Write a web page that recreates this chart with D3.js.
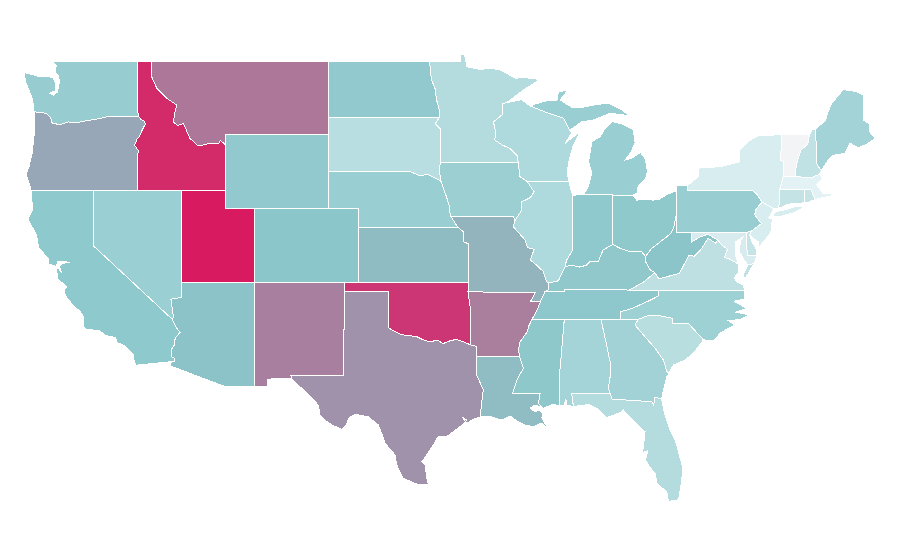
<!DOCTYPE html>
<html><head><meta charset="utf-8">
<script src="https://cdn.jsdelivr.net/npm/d3@7"></script>
<style>html,body{margin:0;background:#fff}svg{display:block}</style>
</head><body><svg id="map" width="900" height="560"></svg>
<script>
const stateNames=["WA","OR","CA","NV","ID","MT","WY","UT","CO","AZ","NM","ND","SD","NE","KS","OK","TX","MN","IA","MO","AR","LA","WI","IL","MI","IN","OH","KY","TN","MS","AL","GA","FL","SC","NC","VA","WV","PA","NY","VT","NH","ME","MA","CT","RI","NJ","DE","MD"];
const stateColors=["#97cdd1","#97a7b7","#8ecacd","#9ad0d3","#d32b69","#ac7799","#92c9ce","#d81b60","#8bc7ca","#8bc3c8","#a87f9e","#91c9ce","#b9dee1","#99cfd2","#8fbbc3","#cd3674","#a092aa","#b4dbde","#9bcfd2","#93b4bd","#aa7e9d","#90bdc4","#aedadd","#aed9dd","#99cfd2","#90c9cd","#90c9cc","#90c8cc","#8ec8cc","#8ec8cb","#a4d4d7","#a2d2d5","#b4dbde","#b8dee0","#9ed1d4","#bfe0e2","#8bc4c9","#98ced1","#d8edf0","#f3f4f5","#c0e2e4","#a3d3d6","#e3f2f4","#c3e3e5","#c6e4e6","#d8edf0","#c6e4e7","#d8ecef"];
const lonDomain=[-114.04,-94.6], lonRange=[181.3,468.3];
const latDomain=[49,32], latRange=[61,375];
// shared borders, longitude / latitude
const borderArcs={
columbia:[[-124,46.25],[-123.4,46.2],[-123.15,46.15],[-122.9,45.95],[-122.8,45.65],[-122.3,45.55],[-121.7,45.7],[-121.2,45.65],[-120.6,45.75],[-120,45.82],[-119.3,45.93],[-119,46],[-116.92,46]],
orId:[[-116.92,46],[-116.78,45.85],[-116.55,45.75],[-116.46,45.6],[-116.67,45.3],[-116.85,44.95],[-117.05,44.75],[-117.2,44.45],[-117.05,44.25],[-116.93,44.15],[-117.03,43.83],[-117.03,42]],
idMt:[[-116.05,49],[-116.05,48.15],[-115.7,47.52],[-115.03,46.98],[-114.35,46.62],[-114.5,46.1],[-114.58,45.71],[-114.3,45.5],[-113.9,45.62],[-113.45,44.81],[-112.89,44.4],[-112.2,44.52],[-111.5,44.55],[-111.4,44.7],[-111.05,44.47]],
caAz:[[-114.63,35],[-114.57,34.85],[-114.4,34.6],[-114.13,34.3],[-114.45,34],[-114.53,33.6],[-114.7,33.4],[-114.72,33],[-114.5,32.9],[-114.47,32.75],[-114.72,32.72]],
nvAz:[[-114.05,37],[-114.05,36.2],[-114.4,36.15],[-114.74,36.1],[-114.65,35.6],[-114.57,35.15],[-114.63,35]],
ndMn:[[-97.23,49],[-97.1,48],[-96.85,47.5],[-96.75,46.9],[-96.55,46.3],[-96.56,45.94]],
sdMn:[[-96.56,45.94],[-96.85,45.6],[-96.45,45.3],[-96.45,43.5]],
iaSd:[[-96.45,43.5],[-96.58,43.2],[-96.45,42.49]],
neSd:[[-98.5,43],[-97.9,42.8],[-97.3,42.85],[-96.7,42.6],[-96.45,42.49]],
neIa:[[-96.45,42.49],[-96.1,41.7],[-95.9,41.2],[-95.85,40.8],[-95.77,40.58]],
neMo:[[-95.77,40.58],[-95.31,40]],
ksMo:[[-95.31,40],[-94.93,39.76],[-94.93,39.22],[-94.62,39.11]],
wiMn:[[-92.26,46.7],[-92.29,46.1],[-92.9,45.7],[-92.75,45.2],[-92.8,44.72],[-92.3,44.45],[-91.77,44.27],[-91.27,43.86],[-91.22,43.5]],
iaWi:[[-91.22,43.5],[-91.1,42.74],[-90.64,42.5]],
iaIl:[[-90.64,42.5],[-90.14,41.92],[-90.4,41.6],[-90.98,41.38],[-90.98,40.93],[-91.43,40.38]],
moIl:[[-91.43,40.38],[-91.55,40.03],[-90.75,39.31],[-90.6,38.9],[-90.14,38.8],[-90.4,38.23],[-89.9,37.9],[-89.52,37.6],[-89.3,37.05],[-89.13,36.98]],
moKy:[[-89.13,36.98],[-89.2,36.6],[-89.42,36.5]],
moTn:[[-89.42,36.5],[-89.55,36.25],[-89.7,36]],
arTn:[[-89.7,36],[-89.9,35.6],[-90.19,35.15],[-90.3,35]],
arMs:[[-90.3,35],[-90.53,34.6],[-90.6,34.35],[-91.09,33.8],[-91.2,33.4],[-91.14,33.02]],
msLa:[[-91.14,33.02],[-90.87,32.36],[-91.31,31.73],[-91.6,31]],
pearl:[[-89.74,31],[-89.85,30.47],[-89.52,30.2]],
red:[[-100,34.56],[-99.7,34.4],[-99.22,34.22],[-98.9,34.15],[-98.5,34.12],[-98.1,34.08],[-97.7,33.92],[-97.2,33.8],[-96.9,33.85],[-96.6,33.84],[-96.3,33.7],[-95.85,33.85],[-95.4,33.93],[-95,33.82],[-94.48,33.64]],
sabine:[[-94.04,33.02],[-94.04,32],[-93.58,31.19],[-93.69,30.55],[-93.8,29.72]],
gaAl:[[-85.6,34.98],[-85.2,33.5],[-84.94,32.5],[-84.94,32.18],[-85.11,31.3],[-85,31]],
gaFl:[[-81.5,30.7],[-81.95,30.8],[-82.05,30.36],[-82.17,30.55],[-84.86,30.7]],
gaSc:[[-83.11,35],[-83.3,34.7],[-82.74,34.17],[-81.95,33.45],[-81.38,32.8],[-81.15,32.18],[-81,32.1]],
ncSc:[[-83.11,35],[-82.5,35.2],[-81.6,35.2],[-80.8,35.07],[-80.75,34.8],[-79.7,34.8],[-78.67,33.9]],
tnNc:[[-84.32,34.98],[-84.27,35.43],[-83.5,35.6],[-82.97,35.8],[-82.4,36],[-81.72,36.28],[-81.68,36.59]],
ilKy:[[-89.13,36.98],[-88.5,37.1],[-88.05,37.85]],
inKy:[[-88.05,37.85],[-87.6,37.95],[-87.03,37.84],[-86.6,37.95],[-86.35,38.14],[-85.8,38.14],[-85.47,38.77],[-84.82,39.07]],
ohKy:[[-84.82,39.07],[-84.3,38.85],[-83.64,38.67],[-82.85,38.67],[-82.6,38.42]],
wabash:[[-88.05,37.85],[-87.95,38.2],[-87.53,38.77],[-87.53,39.35],[-87.53,41.72]],
ohWv:[[-80.52,40.64],[-80.7,39.95],[-80.9,39.65],[-81.72,39.13],[-82.17,38.86],[-82.6,38.42]],
kyWv:[[-82.6,38.42],[-82.6,38.15],[-82.3,37.7],[-81.97,37.54]],
kyVa:[[-81.97,37.54],[-82.7,37.05],[-83.68,36.6]],
wvMd:[[-79.48,39.2],[-78.95,39.45],[-78.4,39.62],[-77.72,39.32]],
wvVa:[[-77.72,39.32],[-77.83,39.13],[-78.35,39.4],[-78.87,38.77],[-79.3,38.42],[-79.65,38.5],[-80.3,37.5],[-81.25,37.3],[-81.68,37.2],[-81.97,37.54]],
mdVa:[[-77.72,39.32],[-77.5,39.1],[-77.05,38.8],[-77.25,38.35],[-76.95,38.3],[-76.3,38]],
paNy:[[-75.35,42],[-75.02,41.75],[-74.7,41.36]],
paNj:[[-74.7,41.36],[-75.1,41],[-75.2,40.68],[-74.75,40.2],[-75.4,39.8]],
nyNj:[[-74.7,41.36],[-73.9,41]],
vtNh:[[-71.5,45.01],[-71.6,44.5],[-72.05,44.2],[-72.3,43.6],[-72.45,43],[-72.46,42.73]],
nyVt:[[-73.35,45.01],[-73.4,44.3],[-73.48,43.64],[-73.25,43.55],[-73.27,42.75]],
meNh:[[-71.08,45.3],[-70.98,43.4],[-70.7,43.07]],
nyMaCt:[[-73.27,42.75],[-73.5,42.05],[-73.5,41.3],[-73.65,41]]
};
// each state: rings of border names ("-" = reversed) and own points
const stateRings={
WA:[[[-117.04,49],[-122.76,49],[-122.5,48.75],[-122.6,48.4],[-122.35,48.2],[-122.3,47.9],[-122.35,47.6],[-122.45,47.3],[-122.7,47.15],[-122.95,47.25],[-122.55,47.4],[-122.55,47.8],[-122.75,48.12],[-123.1,48.15],[-123.7,48.17],[-124.3,48.3],[-124.68,48.38],[-124.6,47.9],[-124.3,47.3],[-124.1,46.9],[-124.05,46.3],"columbia",[-117.04,46.4]]],
OR:[["columbia","orId",[-124.21,42],[-124.4,42.5],[-124.55,42.84],[-124.35,43.3],[-124.15,44],[-124.05,44.7],[-123.95,45.4],[-123.95,46]]],
CA:[[[-120,42],[-120,39],"caAz",[-117.12,32.53],[-117.25,32.85],[-117.3,33.1],[-117.9,33.6],[-118.4,33.75],[-118.5,34.03],[-119.2,34.15],[-119.6,34.42],[-120.47,34.45],[-120.65,34.6],[-120.65,35.15],[-120.9,35.45],[-121.3,35.7],[-121.9,36.3],[-121.95,36.6],[-121.8,36.8],[-122.05,36.95],[-122.4,37.2],[-122.5,37.75],[-122.38,37.78],[-122.15,37.55],[-122.3,37.9],[-122.05,38.05],[-121.6,38.1],[-122,38.14],[-122.4,38.15],[-122.5,37.88],[-123,38],[-123.05,38.3],[-123.7,38.9],[-123.85,39.6],[-124.35,40.3],[-124.4,40.45],[-124.1,41],[-124.2,41.75],[-124.21,42]]],
NV:[[[-120,42],[-114.04,42],"nvAz",[-120,39]]],
ID:[[[-117.04,49],"idMt",[-111.05,42],[-117.03,42],"-orId",[-117.04,46.4]]],
MT:[[[-116.05,49],[-104.05,49],[-104.05,45],[-111.05,45],[-111.05,44.47],"-idMt"]],
WY:[[[-111.05,45],[-104.05,45],[-104.05,41],[-111.05,41]]],
UT:[[[-114.04,42],[-111.05,42],[-111.05,41],[-109.05,41],[-109.05,37],[-114.05,37]]],
CO:[[[-109.05,41],[-102.05,41],[-102.05,37],[-109.05,37]]],
AZ:[[[-114.05,37],[-109.05,37],[-109.05,31.37],[-111.07,31.37],[-114.81,32.5],"-caAz","-nvAz"]],
NM:[[[-109.05,37],[-103,37],[-103,36.5],[-103.04,32],[-106.62,32],[-106.56,31.8],[-108.21,31.78],[-108.21,31.37],[-109.05,31.37]]],
ND:[[[-104.05,49],"ndMn",[-104.05,45.94]]],
SD:[[[-104.05,45.94],"sdMn","iaSd","-neSd",[-104.05,43]]],
NE:[[[-104.05,43],"neSd","neIa","neMo",[-102.05,40],[-102.05,41],[-104.05,41]]],
KS:[[[-102.05,40],"ksMo",[-94.62,37],[-102.05,37]]],
OK:[[[-103,37],[-94.62,37],[-94.62,36.5],[-94.43,35.4],"-red",[-100,36.5],[-103,36.5]]],
TX:[[[-103,36.5],[-100,36.5],"red",[-94.04,33.55],"sabine",[-94.2,29.62],[-94.7,29.4],[-95.04,29.74],[-94.7,29.56],[-95.16,29.2],[-95.6,28.95],[-96.06,28.66],[-96.65,28.66],[-96.9,28.3],[-97.2,27.94],[-97.41,27.67],[-97.6,27.45],[-97.75,27.3],[-97.46,27.1],[-97.48,26.86],[-97.4,26.4],[-97.3,26.05],[-97.7,26.05],[-98.1,26.1],[-99,26.4],[-99.25,26.8],[-99.45,27.13],[-99.56,27.67],[-100.24,28.3],[-100.45,28.8],[-100.7,29.3],[-101.37,29.74],[-102.27,29.87],[-102.55,29.75],[-102.7,29.65],[-102.9,29.25],[-103.17,29.06],[-103.85,29.3],[-104.3,29.55],[-104.65,29.83],[-104.76,30.37],[-105.2,30.75],[-105.66,31.1],[-106.56,31.8],[-106.62,32],[-103.04,32]]],
MN:[[[-97.23,49],[-95.15,49],[-95.1,49.33],[-94.85,49.33],[-94.7,48.69],[-93.8,48.55],[-92.95,48.6],[-92.44,48.51],[-91.4,48.07],[-90.75,48.1],[-89.74,48],[-90.86,47.43],[-92,46.75],"wiMn",[-96.45,43.5],"-sdMn","-ndMn"]],
IA:[[[-96.45,43.5],"iaWi","iaIl",[-91.55,40.6],"-neIa","-iaSd"]],
MO:[[[-95.77,40.58],[-91.55,40.6],"moIl","moKy","moTn",[-90.37,36],[-90.07,36.47],[-94.62,36.5],"-ksMo","-neMo"]],
AR:[[[-94.62,36.5],[-90.07,36.47],[-90.37,36],"arTn","arMs",[-94.04,33.02],[-94.04,33.55],[-94.48,33.64],[-94.43,35.4]]],
LA:[["msLa",[-89.74,31],"pearl",[-89.8,30.3],[-90.1,30.37],[-90.42,30.2],[-90.1,30.02],[-89.75,30.1],[-89.55,29.9],[-89.62,29.67],[-89.18,29.06],[-89.54,29.35],[-89.8,29.35],[-90.19,29.2],[-90.75,29.29],[-91.3,29.5],[-91.77,29.78],[-92.33,29.56],[-93.24,29.78],"-sabine"]],
WI:[["wiMn","iaWi",[-87.8,42.5],[-87.9,43],[-87.75,43.7],[-87.5,44.4],[-87.03,45.17],[-88.04,44.55],[-87.6,45.1],[-87.8,45.35],[-88.15,45.9],[-89.1,46.15],[-90.2,46.5],[-90.4,46.57],[-91,46.9],[-92,46.75]]],
IL:[[[-90.64,42.5],[-87.8,42.5],[-87.6,41.9],"-wabash","-ilKy","-moIl","-iaIl"]],
MI:[[[-84.8,41.73],[-86.82,41.76],[-86.5,42.15],[-86.23,42.92],[-86.46,43.55],[-86.23,44.63],[-85.67,44.9],[-85.33,45.36],[-84.88,45.72],[-84.2,45.6],[-83.42,45.27],[-83.3,44.55],[-83.6,44.05],[-83.98,43.64],[-83.5,43.75],[-82.95,44.05],[-82.6,43.7],[-82.47,43],[-82.6,42.6],[-83.1,42.2],[-83.18,41.84],[-83.45,41.73]],[[-90.3,46.62],[-89.3,46.85],[-88.58,46.89],[-88.5,47.32],[-87.84,47.43],[-88.38,46.89],[-87.6,46.5],[-87.03,46.46],[-86.2,46.6],[-85.13,46.73],[-84.2,46.35],[-83.64,46.02],[-84.09,46.08],[-84.99,46.17],[-86.15,45.8],[-86.92,45.71],[-87.7,45.26],[-87.6,45.1],[-87.8,45.35],[-88.15,45.9],[-89.1,46.15],[-90.2,46.5]]],
IN:[[[-87.53,41.72],[-87.2,41.76],[-84.8,41.76],[-84.82,39.07],"-inKy","wabash"]],
OH:[[[-84.8,41.73],[-83.45,41.73],[-83.2,41.47],[-82.7,41.5],[-82.06,41.47],[-81.7,41.5],[-81.2,41.75],[-80.52,41.97],"ohWv","-ohKy"]],
KY:[[[-89.42,36.5],"-moKy","ilKy","inKy","ohKy","kyWv","kyVa",[-88.07,36.65],[-88.07,36.5]]],
TN:[[[-90.3,35],"-arTn","-moTn",[-88.07,36.5],[-88.07,36.65],[-83.68,36.6],[-81.68,36.59],"-tnNc",[-85.6,34.98],[-88.1,35]]],
MS:[[[-90.3,35],[-88.1,35],[-88.43,31.9],[-88.4,30.35],[-88.9,30.4],[-89.52,30.2],"-pearl",[-91.6,31],"-msLa","-arMs"]],
AL:[[[-88.1,35],"gaAl",[-87.6,31],[-87.48,30.3],[-87.9,30.35],[-88,30.7],[-88.1,30.35],[-88.4,30.35],[-88.43,31.9]]],
GA:[[[-85.6,34.98],[-83.11,35],"gaSc",[-81.15,31.9],[-81.38,31.2],"gaFl",[-85,31],"-gaAl"]],
FL:[[[-87.6,31],[-85,31],[-84.86,30.7],"-gaFl",[-81.3,29.9],[-80.93,29],[-80.55,28.4],[-80.07,26.95],[-80.14,26.3],[-80.35,25.3],[-80.49,25.23],[-81.04,25.15],[-81.15,25.68],[-81.8,26.1],[-81.95,26.68],[-82.3,27],[-82.6,27.4],[-82.45,27.9],[-82.8,27.8],[-82.74,28.11],[-82.63,28.93],[-83.4,29.5],[-84.09,30.1],[-84.35,29.95],[-85.22,29.7],[-85.8,30.15],[-86.4,30.4],[-87.48,30.3]]],
SC:[["ncSc",[-79.35,33.18],[-79.9,32.82],[-80.71,32.54],[-81,32.1],"-gaSc"]],
NC:[[[-84.32,34.98],[-83.11,35],"ncSc",[-77.95,33.87],[-77.5,34.3],[-76.53,34.7],[-77,34.95],[-76.2,35],[-75.55,35.25],[-76.5,35.4],[-75.75,35.6],[-76.6,36],[-75.87,36.1],[-75.87,36.55],[-81.68,36.59],"-tnNc"]],
VA:[[[-83.68,36.6],"-kyVa","-wvVa","mdVa",[-76.3,37.55],[-76.6,37.25],[-76.35,37],[-76,36.9],[-75.87,36.55],[-81.68,36.59]],[[-75.65,37.95],[-75.25,38.03],[-75.9,37.15],[-75.95,37.5]]],
WV:[[[-80.52,40.64],[-80.52,39.72],[-79.48,39.72],"wvMd","wvVa","-kyWv","-ohWv"]],
PA:[[[-80.52,41.97],[-80.52,42.27],[-79.76,42.27],[-79.76,42],"paNy","paNj",[-75.78,39.72],[-80.52,39.72]]],
NY:[[[-79.76,42],[-79.76,42.27],[-79,42.74],[-79,43.2],[-77.55,43.28],[-76.2,43.55],[-76.2,44.18],[-75.5,44.72],[-74.95,44.96],"nyVt","nyMaCt",[-73.9,41],"-nyNj","-paNy"],[[-74,40.6],[-73.75,40.85],[-73,40.97],[-72.3,41.15],[-71.87,41.07],[-72.5,40.8],[-73.5,40.58]]],
VT:[["nyVt","-vtNh"]],
NH:[["vtNh",[-71.3,42.7],[-70.82,42.87],[-70.7,43.07],"-meNh",[-71.3,45.3]]],
ME:[["meNh",[-70.25,43.6],[-69.87,43.9],[-69.1,44],[-68.73,44.55],[-68.2,44.3],[-67.6,44.5],[-67.04,44.8],[-67.45,45.2],[-67.45,45.6],[-67.83,45.8],[-67.83,47.15],[-68.3,47.35],[-69,47.43],[-69.2,47.45],[-70,46.7],[-70.25,46.2],[-70.4,45.8]]],
MA:[[[-73.5,42.05],[-73.27,42.75],[-72.46,42.73],[-71.3,42.7],[-70.82,42.87],[-70.6,42.65],[-71,42.3],[-70.55,41.8],[-70.05,41.8],[-70.2,42.05],[-69.95,41.7],[-70.6,41.6],[-71.12,41.5],[-71.38,42.02],[-71.8,42.02]]],
CT:[[[-73.5,42.05],[-71.8,42.02],[-71.85,41.32],[-72.9,41.25],[-73.65,41],[-73.5,41.3]]],
RI:[[[-71.8,42.02],[-71.38,42.02],[-71.12,41.5],[-71.5,41.37],[-71.85,41.32]]],
NJ:[["nyNj",[-74.1,40.7],[-74.25,40.5],[-74,40.45],[-74.1,39.75],[-74.4,39.4],[-74.9,38.93],[-74.95,39.2],[-75.4,39.45],[-75.55,39.6],[-75.4,39.8],"-paNj"]],
DE:[[[-75.78,39.72],[-75.4,39.8],[-75.55,39.6],[-75.4,39.25],[-75.1,38.8],[-75.05,38.45],[-75.7,38.46]]],
MD:[[[-79.48,39.72],[-75.78,39.72],[-75.7,38.46],[-75.05,38.45],[-75.25,38.03],[-75.65,37.95],[-75.9,38.2],[-76.25,38.7],[-76.15,39.3],[-75.96,39.5],[-76.5,39.2],[-76.5,38.5],[-76.3,38],"-mdVa","-wvMd"]]
};

const x=d3.scaleLinear().domain(lonDomain).range(lonRange);
const y=d3.scaleLinear().domain(latDomain).range(latRange);
const ringOf=items=>items.flatMap(it=>{
  if(typeof it!=="string")return [it];
  return it[0]==="-"?[...borderArcs[it.slice(1)]].reverse():borderArcs[it];
});
const features=stateNames.map((n,i)=>({type:"Feature",id:n,properties:{fill:stateColors[i]},
  geometry:{type:"MultiPolygon",coordinates:stateRings[n].map(r=>{const c=ringOf(r);return [[...c,c[0]]];})}}));
const path=d3.geoPath(d3.geoTransform({point(lon,lat){this.stream.point(x(lon),y(lat));}}));
d3.select("#map").selectAll("path").data(features).join("path")
  .attr("d",path).attr("fill",d=>d.properties.fill)
  .attr("stroke","#fff").attr("stroke-width",1).attr("shape-rendering","crispEdges");
</script></body></html>
